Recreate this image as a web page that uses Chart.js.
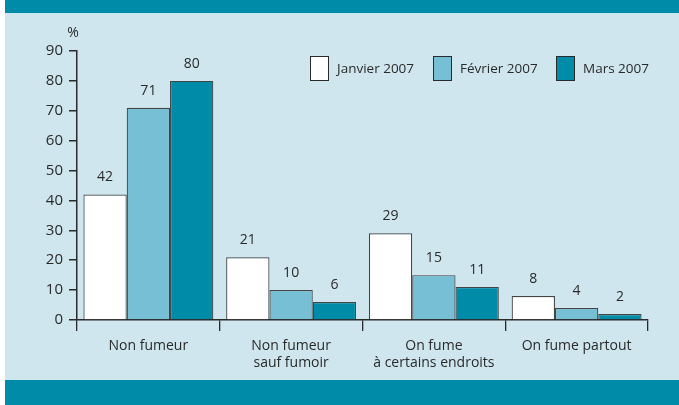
<!DOCTYPE html>
<html>
<head>
<meta charset="utf-8">
<script src="https://cdn.jsdelivr.net/npm/chart.js@4"></script>
<style>
  html, body { margin: 0; padding: 0; background: #fff; }
  #wrap {
    position: absolute; left: 5px; top: 0; width: 674px; height: 405px;
    background: linear-gradient(#008ba8 0, #008ba8 13px, #cfe6ee 13px, #cfe6ee 380px, #008ba8 380px);
  }
  canvas { position: absolute; left: -5px; top: 0; }
</style>
</head>
<body>
<div id="wrap"><canvas id="chart" width="679" height="405"></canvas></div>
<script>
  const categories = [["Non fumeur"], ["Non fumeur", "sauf fumoir"], ["On fume", "à certains endroits"], ["On fume partout"]];
  const seriesNames = ["Janvier 2007", "Février 2007", "Mars 2007"];
  const janvier = [42, 21, 29, 8];
  const fevrier = [71, 10, 15, 4];
  const mars = [80, 6, 11, 2];
  const yTicks = [0, 10, 20, 30, 40, 50, 60, 70, 80, 90];

  const colors = ["#ffffff", "#77bfd4", "#008ba8"];
  const ink = "#2a2a2a";
  const fontFamily = "'Open Sans', sans-serif";

  // value labels above each bar
  const valueLabels = {
    id: "valueLabels",
    afterDatasetsDraw(chart) {
      const ctx = chart.ctx;
      ctx.save();
      ctx.fillStyle = ink;
      ctx.font = "14px " + fontFamily;
      ctx.textAlign = "center";
      ctx.textBaseline = "middle";
      chart.data.datasets.forEach((ds, i) => {
        chart.getDatasetMeta(i).data.forEach((bar, j) => {
          ctx.fillText(ds.data[j], bar.x, bar.y - 17);
        });
      });
      ctx.restore();
    }
  };

  // legend drawn inside the plot, top right
  const boxLegend = {
    id: "boxLegend",
    afterDraw(chart) {
      const ctx = chart.ctx;
      const starts = [310, 433, 556];
      ctx.save();
      ctx.font = "13.5px " + fontFamily;
      ctx.textBaseline = "middle";
      chart.data.datasets.forEach((ds, i) => {
        const x = starts[i];
        ctx.fillStyle = ds.backgroundColor;
        ctx.fillRect(x, 56, 18, 24);
        ctx.strokeStyle = ink;
        ctx.lineWidth = 1;
        ctx.strokeRect(x + 0.5, 56.5, 18, 24);
        ctx.fillStyle = ink;
        ctx.fillText(ds.label, x + 27, 69);
      });
      // unit label
      ctx.font = "14px " + fontFamily;
      ctx.textAlign = "center";
      ctx.fillText("%", 73, 33);
      ctx.restore();
    }
  };

  new Chart(document.getElementById("chart"), {
    type: "bar",
    data: {
      labels: categories,
      datasets: [
        { label: seriesNames[0], data: janvier, backgroundColor: colors[0] },
        { label: seriesNames[1], data: fevrier, backgroundColor: colors[1] },
        { label: seriesNames[2], data: mars, backgroundColor: colors[2] }
      ].map(d => Object.assign(d, { borderColor: "#444", borderWidth: 1.2, borderSkipped: "bottom" }))
    },
    options: {
      responsive: false,
      animation: false,
      datasets: { bar: { categoryPercentage: 0.91, barPercentage: 1 } },
      layout: { padding: { top: 51, right: 31, left: 0, bottom: 0 } },
      plugins: { legend: { display: false }, tooltip: { enabled: false } },
      scales: {
        x: {
          grid: { offset: true, drawOnChartArea: false, drawTicks: true, tickLength: 11, color: ink, lineWidth: 1.3 },
          border: { display: true, color: ink, width: 1.5 },
          ticks: { color: ink, font: { family: fontFamily, size: 14, lineHeight: 1.22 }, padding: 6, maxRotation: 0, autoSkip: false },
          afterFit(scale) { scale.height = 85; }
        },
        y: {
          min: 0, max: 90,
          afterBuildTicks(scale) { scale.ticks = yTicks.map(v => ({ value: v })); },
          grid: { drawOnChartArea: false, drawTicks: true, tickLength: 8, color: ink, lineWidth: 1.5 },
          border: { display: true, color: ink, width: 1.5 },
          ticks: { color: ink, font: { family: fontFamily, size: 15 }, padding: 6 },
          afterFit(scale) { scale.width = 77; }
        }
      }
    },
    plugins: [valueLabels, boxLegend]
  });
</script>
</body>
</html>
